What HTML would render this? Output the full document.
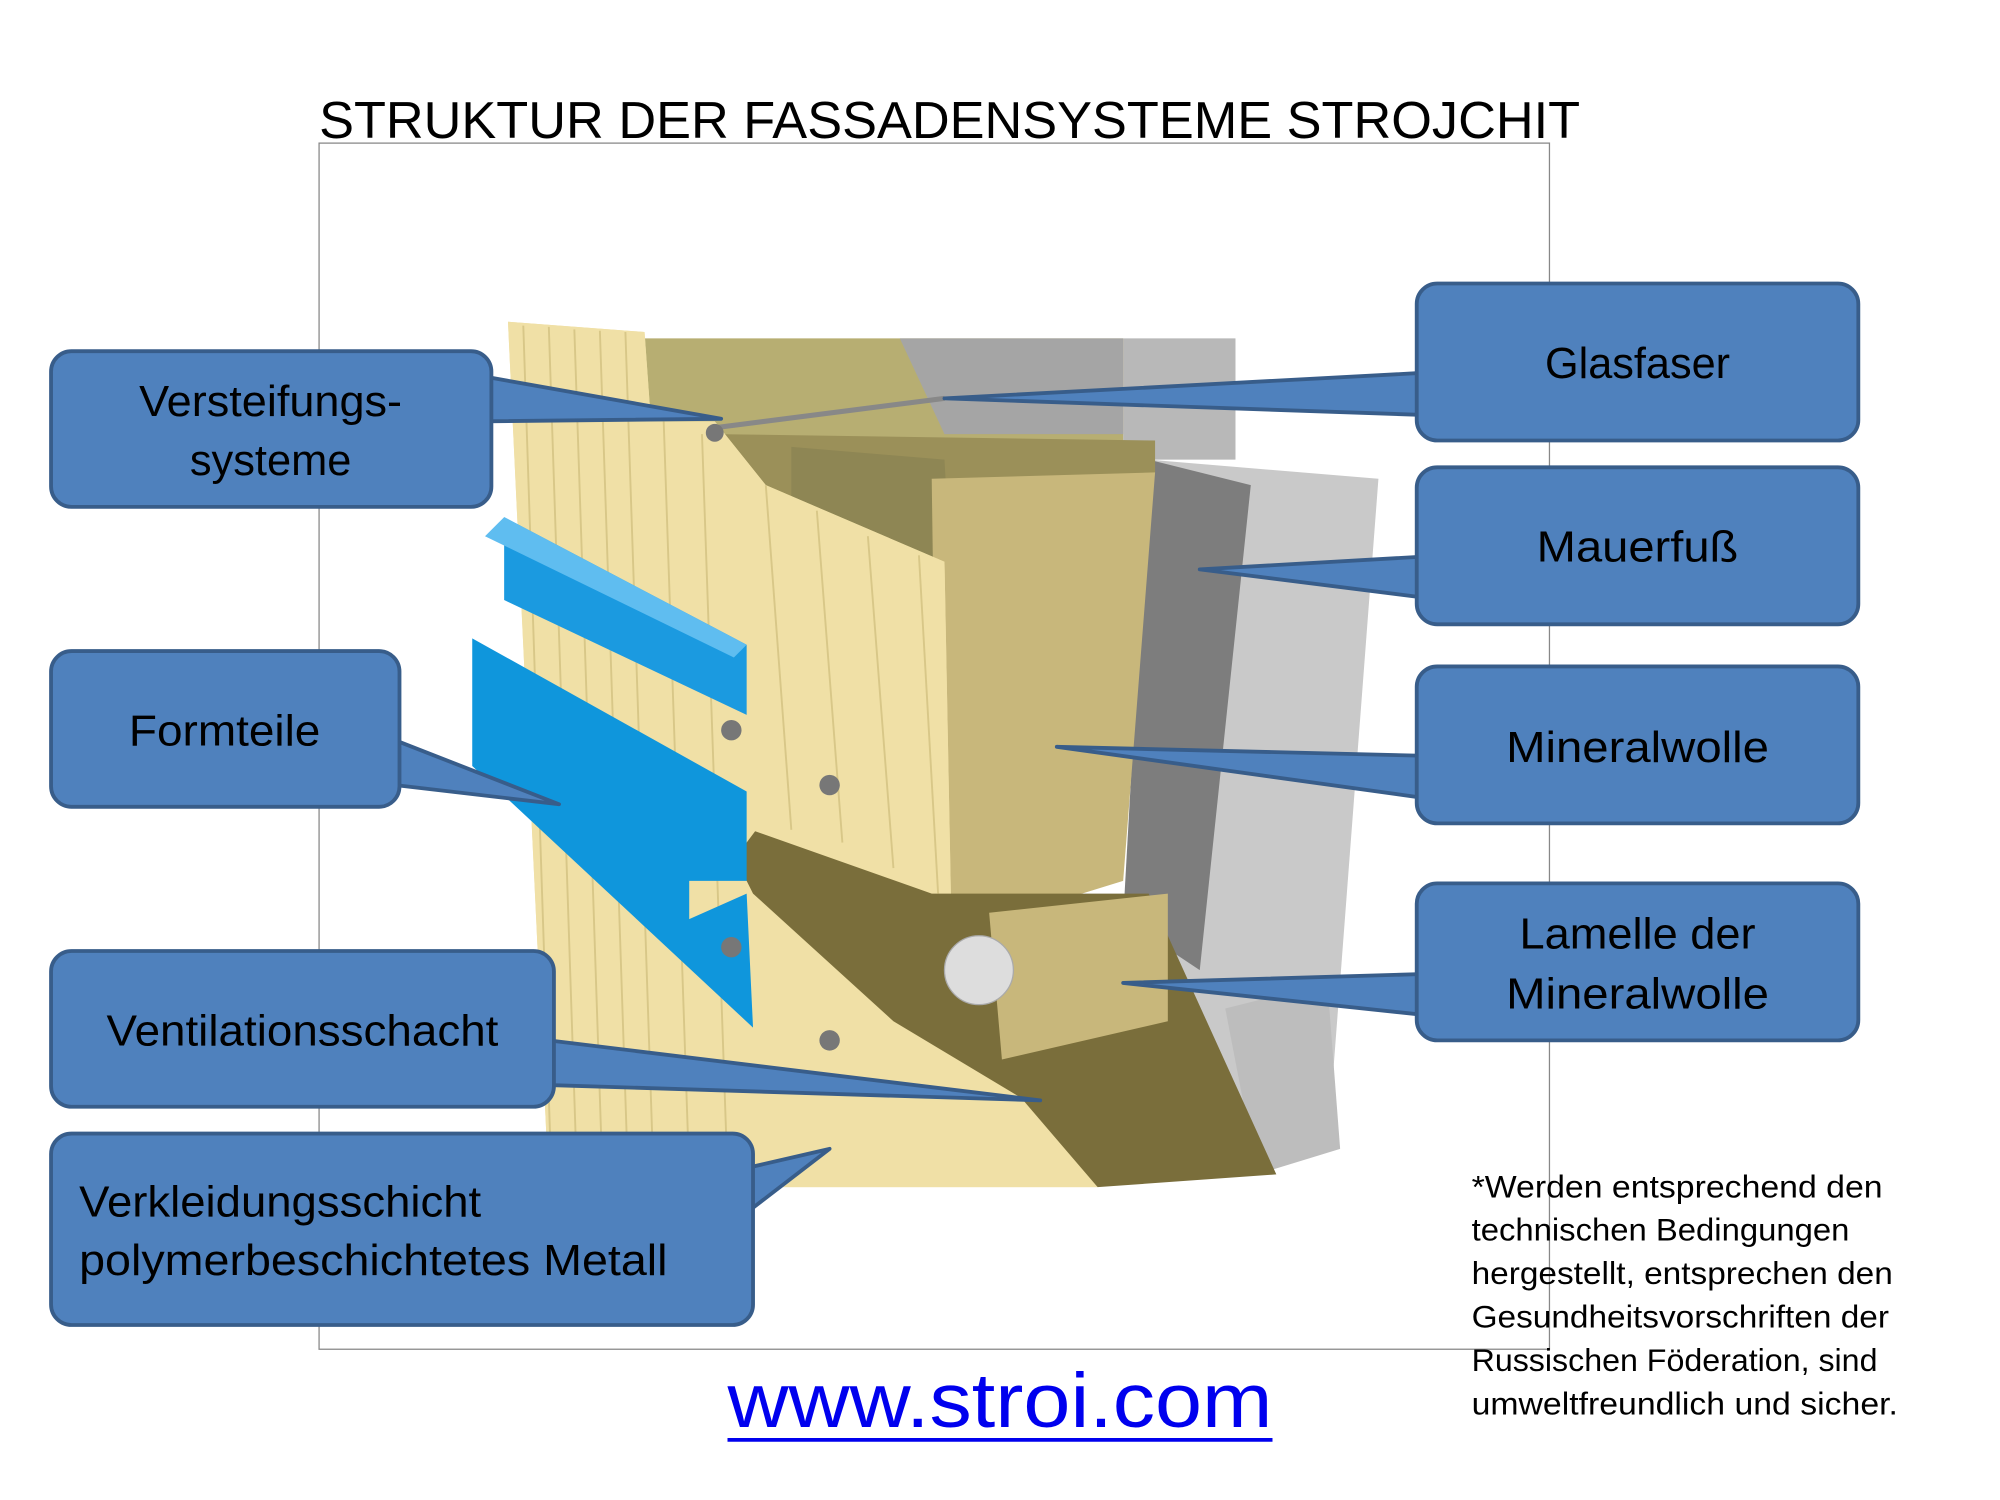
<!DOCTYPE html>
<html><head><meta charset="utf-8"><style>
html,body{margin:0;padding:0;background:#fff}
svg{display:block}
text{font-family:"Liberation Sans","DejaVu Sans",sans-serif}
</style></head><body>
<svg width="2000" height="1500" viewBox="0 0 1567 1175" xmlns="http://www.w3.org/2000/svg">
<rect width="1567" height="1175" fill="#fff"/>
<text x="250" y="108" font-size="41" fill="#000" textLength="988" lengthAdjust="spacingAndGlyphs">STRUKTUR DER FASSADENSYSTEME STROJCHIT</text>
<rect x="250" y="112" width="964" height="945" fill="none" stroke="#888" stroke-width="1"/>

<!-- illustration -->
<polygon points="880,265 968,265 968,360 880,360" fill="#b8b8b8"/>
<polygon points="900,360 1080,375 1040,900 985,920 910,800" fill="#c9c9c9"/>
<polygon points="900,360 980,380 940,760 880,720" fill="#7d7d7d"/>
<polygon points="960,790 1040,770 1050,900 985,920" fill="#bdbdbd"/>
<polygon points="505,265 880,265 880,345 505,345" fill="#b7ae72"/>
<polygon points="705,265 880,265 880,340 740,340" fill="#a5a5a5"/>
<polygon points="560,340 905,345 905,370 640,420" fill="#9b9059"/>
<polygon points="620,350 740,360 745,450 620,450" fill="#8e8654"/>
<polygon points="730,375 905,370 880,690 735,735" fill="#c8b77b"/>
<polygon points="398,252 505,260 510,330 560,330 600,380 740,440 745,700 860,930 430,930" fill="#f0e0a6"/>
<polygon points="560,640 730,700 900,700 1000,920 860,930 800,860 700,800 590,700" fill="#7a6e3b"/>
<polygon points="775,715 915,700 915,800 785,830" fill="#c8b77b"/>
<circle cx="767" cy="760" r="27" fill="#ddd" stroke="#aaa"/>
<polygon points="398,252 505,260 510,330 560,330 600,380 740,440 745,700 600,640 555,700 590,780 680,800 780,870 860,930 430,930" fill="#f0e0a6"/>
<g stroke="#d8c788" stroke-width="1.5">
<line x1="410" y1="255" x2="432" y2="920"/><line x1="430" y1="256" x2="452" y2="920"/><line x1="450" y1="258" x2="472" y2="920"/><line x1="470" y1="259" x2="492" y2="920"/><line x1="490" y1="260" x2="512" y2="920"/><line x1="520" y1="330" x2="540" y2="920"/><line x1="550" y1="340" x2="570" y2="920"/><line x1="600" y1="380" x2="620" y2="650"/><line x1="640" y1="400" x2="660" y2="660"/><line x1="680" y1="420" x2="700" y2="680"/><line x1="720" y1="435" x2="735" y2="700"/>
</g>
<line x1="560" y1="335" x2="740" y2="312" stroke="#888" stroke-width="4"/>
<polygon points="395,405 585,505 585,560 395,470" fill="#1b9ae0"/>
<polygon points="370,500 585,620 585,690 540,690 540,720 585,700 590,805 370,600" fill="#0f96dc"/>
<polygon points="395,405 585,505 575,515 380,420" fill="#5fbdf0"/>
<g fill="#777"><circle cx="573" cy="572" r="8"/><circle cx="650" cy="615" r="8"/><circle cx="573" cy="742" r="8"/><circle cx="650" cy="815" r="8"/><circle cx="560" cy="339" r="7"/></g>

<!-- callouts -->
<g fill="#4f81bd" stroke="#385d8a" stroke-width="3" stroke-linejoin="round">
<polygon points="380,295 565,328 380,330"/>
<rect x="40" y="275" width="345" height="122" rx="16"/>
<polygon points="310,580 438,630 310,615"/>
<rect x="40" y="510" width="273" height="122" rx="16"/>
<polygon points="430,815 815,862 430,850"/>
<rect x="40" y="745" width="394" height="122" rx="16"/>
<polygon points="585,915 650,900 585,950"/>
<rect x="40" y="888" width="550" height="150" rx="16"/>
<polygon points="1115,292 740,312 1115,325"/>
<rect x="1110" y="222" width="346" height="123" rx="16"/>
<polygon points="1115,436 940,446 1115,468"/>
<rect x="1110" y="366" width="346" height="123" rx="16"/>
<polygon points="1115,592 828,585 1115,625"/>
<rect x="1110" y="522" width="346" height="123" rx="16"/>
<polygon points="1115,763 880,770 1115,795"/>
<rect x="1110" y="692" width="346" height="123" rx="16"/>
</g>
<g font-size="34" fill="#000" text-anchor="middle">
<text x="212" y="326" textLength="206" lengthAdjust="spacingAndGlyphs">Versteifungs-</text><text x="212" y="372">systeme</text>
<text x="176" y="584" textLength="150" lengthAdjust="spacingAndGlyphs">Formteile</text>
<text x="237" y="819" textLength="307" lengthAdjust="spacingAndGlyphs">Ventilationsschacht</text>
<text x="1283" y="296" textLength="145" lengthAdjust="spacingAndGlyphs">Glasfaser</text>
<text x="1283" y="440" textLength="158" lengthAdjust="spacingAndGlyphs">Mauerfuß</text>
<text x="1283" y="597" textLength="206" lengthAdjust="spacingAndGlyphs">Mineralwolle</text>
<text x="1283" y="743" textLength="185" lengthAdjust="spacingAndGlyphs">Lamelle der</text><text x="1283" y="790" textLength="206" lengthAdjust="spacingAndGlyphs">Mineralwolle</text>
</g>
<g font-size="34" fill="#000"><text x="62" y="953" textLength="315" lengthAdjust="spacingAndGlyphs">Verkleidungsschicht</text><text x="62" y="999" textLength="461" lengthAdjust="spacingAndGlyphs">polymerbeschichtetes Metall</text></g>

<text x="570" y="1118" font-size="60" fill="#0000ee" textLength="427" lengthAdjust="spacingAndGlyphs">www.stroi.com</text>
<line x1="570" y1="1128" x2="997" y2="1128" stroke="#0000ee" stroke-width="3"/>

<g font-size="25" fill="#000">
<text x="1153" y="938" textLength="322" lengthAdjust="spacingAndGlyphs">*Werden entsprechend den</text>
<text x="1153" y="972" textLength="296" lengthAdjust="spacingAndGlyphs">technischen Bedingungen</text>
<text x="1153" y="1006" textLength="330" lengthAdjust="spacingAndGlyphs">hergestellt, entsprechen den</text>
<text x="1153" y="1040" textLength="327" lengthAdjust="spacingAndGlyphs">Gesundheitsvorschriften der</text>
<text x="1153" y="1074" textLength="318" lengthAdjust="spacingAndGlyphs">Russischen Föderation, sind</text>
<text x="1153" y="1108" textLength="334" lengthAdjust="spacingAndGlyphs">umweltfreundlich und sicher.</text>
</g>
</svg>
</body></html>
